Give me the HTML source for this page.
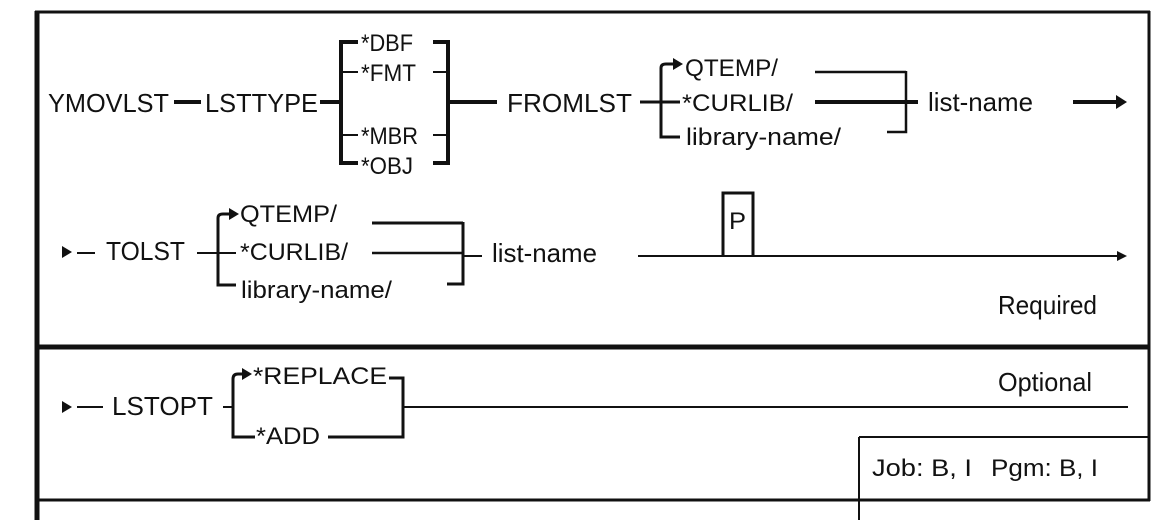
<!DOCTYPE html>
<html><head><meta charset="utf-8"><style>
html,body{margin:0;padding:0;background:#fff;}
svg{display:block;}
text{font-family:"Liberation Sans",Arial,sans-serif;fill:#111;}
</style></head><body>
<svg width="1173" height="520" viewBox="0 0 1173 520" xmlns="http://www.w3.org/2000/svg">
<g stroke="#111" fill="none" stroke-linecap="butt">
<line x1="35" y1="12" x2="1150" y2="12" stroke-width="3"/>
<line x1="37" y1="11" x2="37" y2="520" stroke-width="5"/>
<line x1="1149" y1="11" x2="1149" y2="501" stroke-width="3"/>
<line x1="37" y1="347" x2="1150" y2="347" stroke-width="5"/>
<line x1="37" y1="500" x2="1150" y2="500" stroke-width="3"/>
<line x1="859" y1="437" x2="1150" y2="437" stroke-width="2"/>
<line x1="859" y1="437" x2="859" y2="520" stroke-width="2"/>

<line x1="174" y1="102" x2="201" y2="102" stroke-width="4"/>
<line x1="320" y1="102" x2="341" y2="102" stroke-width="4"/>
<path d="M358 42 H341 V163 H358" stroke-width="4"/>
<line x1="341" y1="72" x2="358" y2="72" stroke-width="2"/>
<line x1="341" y1="135" x2="358" y2="135" stroke-width="2"/>
<path d="M433 42 H448 V163 H433" stroke-width="4"/>
<line x1="433" y1="72" x2="448" y2="72" stroke-width="2"/>
<line x1="433" y1="135" x2="448" y2="135" stroke-width="2"/>
<line x1="448" y1="102" x2="497" y2="102" stroke-width="4"/>
<line x1="640" y1="102" x2="680" y2="102" stroke-width="3"/>
<path d="M680 137 H661 V68 Q661 64 666 64 H674" stroke-width="3"/>
<polygon points="673,58 683,64 673,70" fill="#111" stroke="none"/>
<line x1="815" y1="72" x2="906" y2="72" stroke-width="2.5"/>
<line x1="815" y1="102" x2="918" y2="102" stroke-width="4"/>
<path d="M887 132 H906 V71" stroke-width="2.5"/>
<line x1="1073" y1="102" x2="1118" y2="102" stroke-width="4"/>
<polygon points="1116,95 1127,102 1116,109" fill="#111" stroke="none"/>

<polygon points="62,246 72,252 62,258" fill="#111" stroke="none"/>
<line x1="77" y1="253" x2="95" y2="253" stroke-width="2"/>
<line x1="197" y1="253" x2="236" y2="253" stroke-width="2"/>
<path d="M236 285 H218 V218 Q218 214 223 214 H230" stroke-width="3"/>
<polygon points="229,208 239,214 229,220" fill="#111" stroke="none"/>
<line x1="372" y1="223" x2="463" y2="223" stroke-width="3"/>
<line x1="372" y1="253" x2="463" y2="253" stroke-width="2.5"/>
<path d="M447 284 H463 V222" stroke-width="3"/>
<line x1="463" y1="256" x2="482" y2="256" stroke-width="2"/>
<line x1="638" y1="256" x2="1118" y2="256" stroke-width="2"/>
<polygon points="1117,251 1127,256 1117,261" fill="#111" stroke="none"/>
<path d="M723 256 V193 H753 V256" stroke-width="3"/>

<polygon points="62,401 72,407 62,413" fill="#111" stroke="none"/>
<line x1="77" y1="407" x2="103" y2="407" stroke-width="2"/>
<line x1="223" y1="407" x2="233" y2="407" stroke-width="2"/>
<path d="M255 437 H233 V379 Q233 374 238 374 H243" stroke-width="3"/>
<polygon points="242,368 252,374 242,380" fill="#111" stroke="none"/>
<path d="M389 378 H403 V437 H328" stroke-width="3"/>
<line x1="403" y1="407" x2="1128" y2="407" stroke-width="2"/>
</g>

<g font-size="26">
<text x="48" y="112" textLength="121" lengthAdjust="spacingAndGlyphs">YMOVLST</text>
<text x="205" y="112" textLength="113" lengthAdjust="spacingAndGlyphs">LSTTYPE</text>
<text x="507" y="112" textLength="125" lengthAdjust="spacingAndGlyphs">FROMLST</text>
<text x="928" y="111" textLength="105" lengthAdjust="spacingAndGlyphs">list-name</text>
<text x="106" y="260" textLength="79" lengthAdjust="spacingAndGlyphs">TOLST</text>
<text x="492" y="262" textLength="105" lengthAdjust="spacingAndGlyphs">list-name</text>
<text x="112" y="415" textLength="101" lengthAdjust="spacingAndGlyphs">LSTOPT</text>
<text x="998" y="314" textLength="99" lengthAdjust="spacingAndGlyphs">Required</text>
<text x="998" y="391" textLength="94" lengthAdjust="spacingAndGlyphs">Optional</text>
</g>
<g font-size="24">
<text x="361" y="51" textLength="52" lengthAdjust="spacingAndGlyphs">*DBF</text>
<text x="361" y="81" textLength="55" lengthAdjust="spacingAndGlyphs">*FMT</text>
<text x="361" y="144" textLength="57" lengthAdjust="spacingAndGlyphs">*MBR</text>
<text x="361" y="174" textLength="52" lengthAdjust="spacingAndGlyphs">*OBJ</text>
<text x="685" y="76" textLength="93" lengthAdjust="spacingAndGlyphs">QTEMP/</text>
<text x="682" y="111" textLength="111" lengthAdjust="spacingAndGlyphs">*CURLIB/</text>
<text x="686" y="145" textLength="155" lengthAdjust="spacingAndGlyphs">library-name/</text>
<text x="240" y="222" textLength="97" lengthAdjust="spacingAndGlyphs">QTEMP/</text>
<text x="240" y="260" textLength="108" lengthAdjust="spacingAndGlyphs">*CURLIB/</text>
<text x="241" y="298" textLength="151" lengthAdjust="spacingAndGlyphs">library-name/</text>
<text x="729" y="229" textLength="17" lengthAdjust="spacingAndGlyphs">P</text>
<text x="253" y="384" textLength="134" lengthAdjust="spacingAndGlyphs">*REPLACE</text>
<text x="256" y="444" textLength="64" lengthAdjust="spacingAndGlyphs">*ADD</text>
<text x="872" y="476" textLength="100" lengthAdjust="spacingAndGlyphs">Job: B, I</text>
<text x="991" y="476" textLength="107" lengthAdjust="spacingAndGlyphs">Pgm: B, I</text>
</g>
</svg>
</body></html>
